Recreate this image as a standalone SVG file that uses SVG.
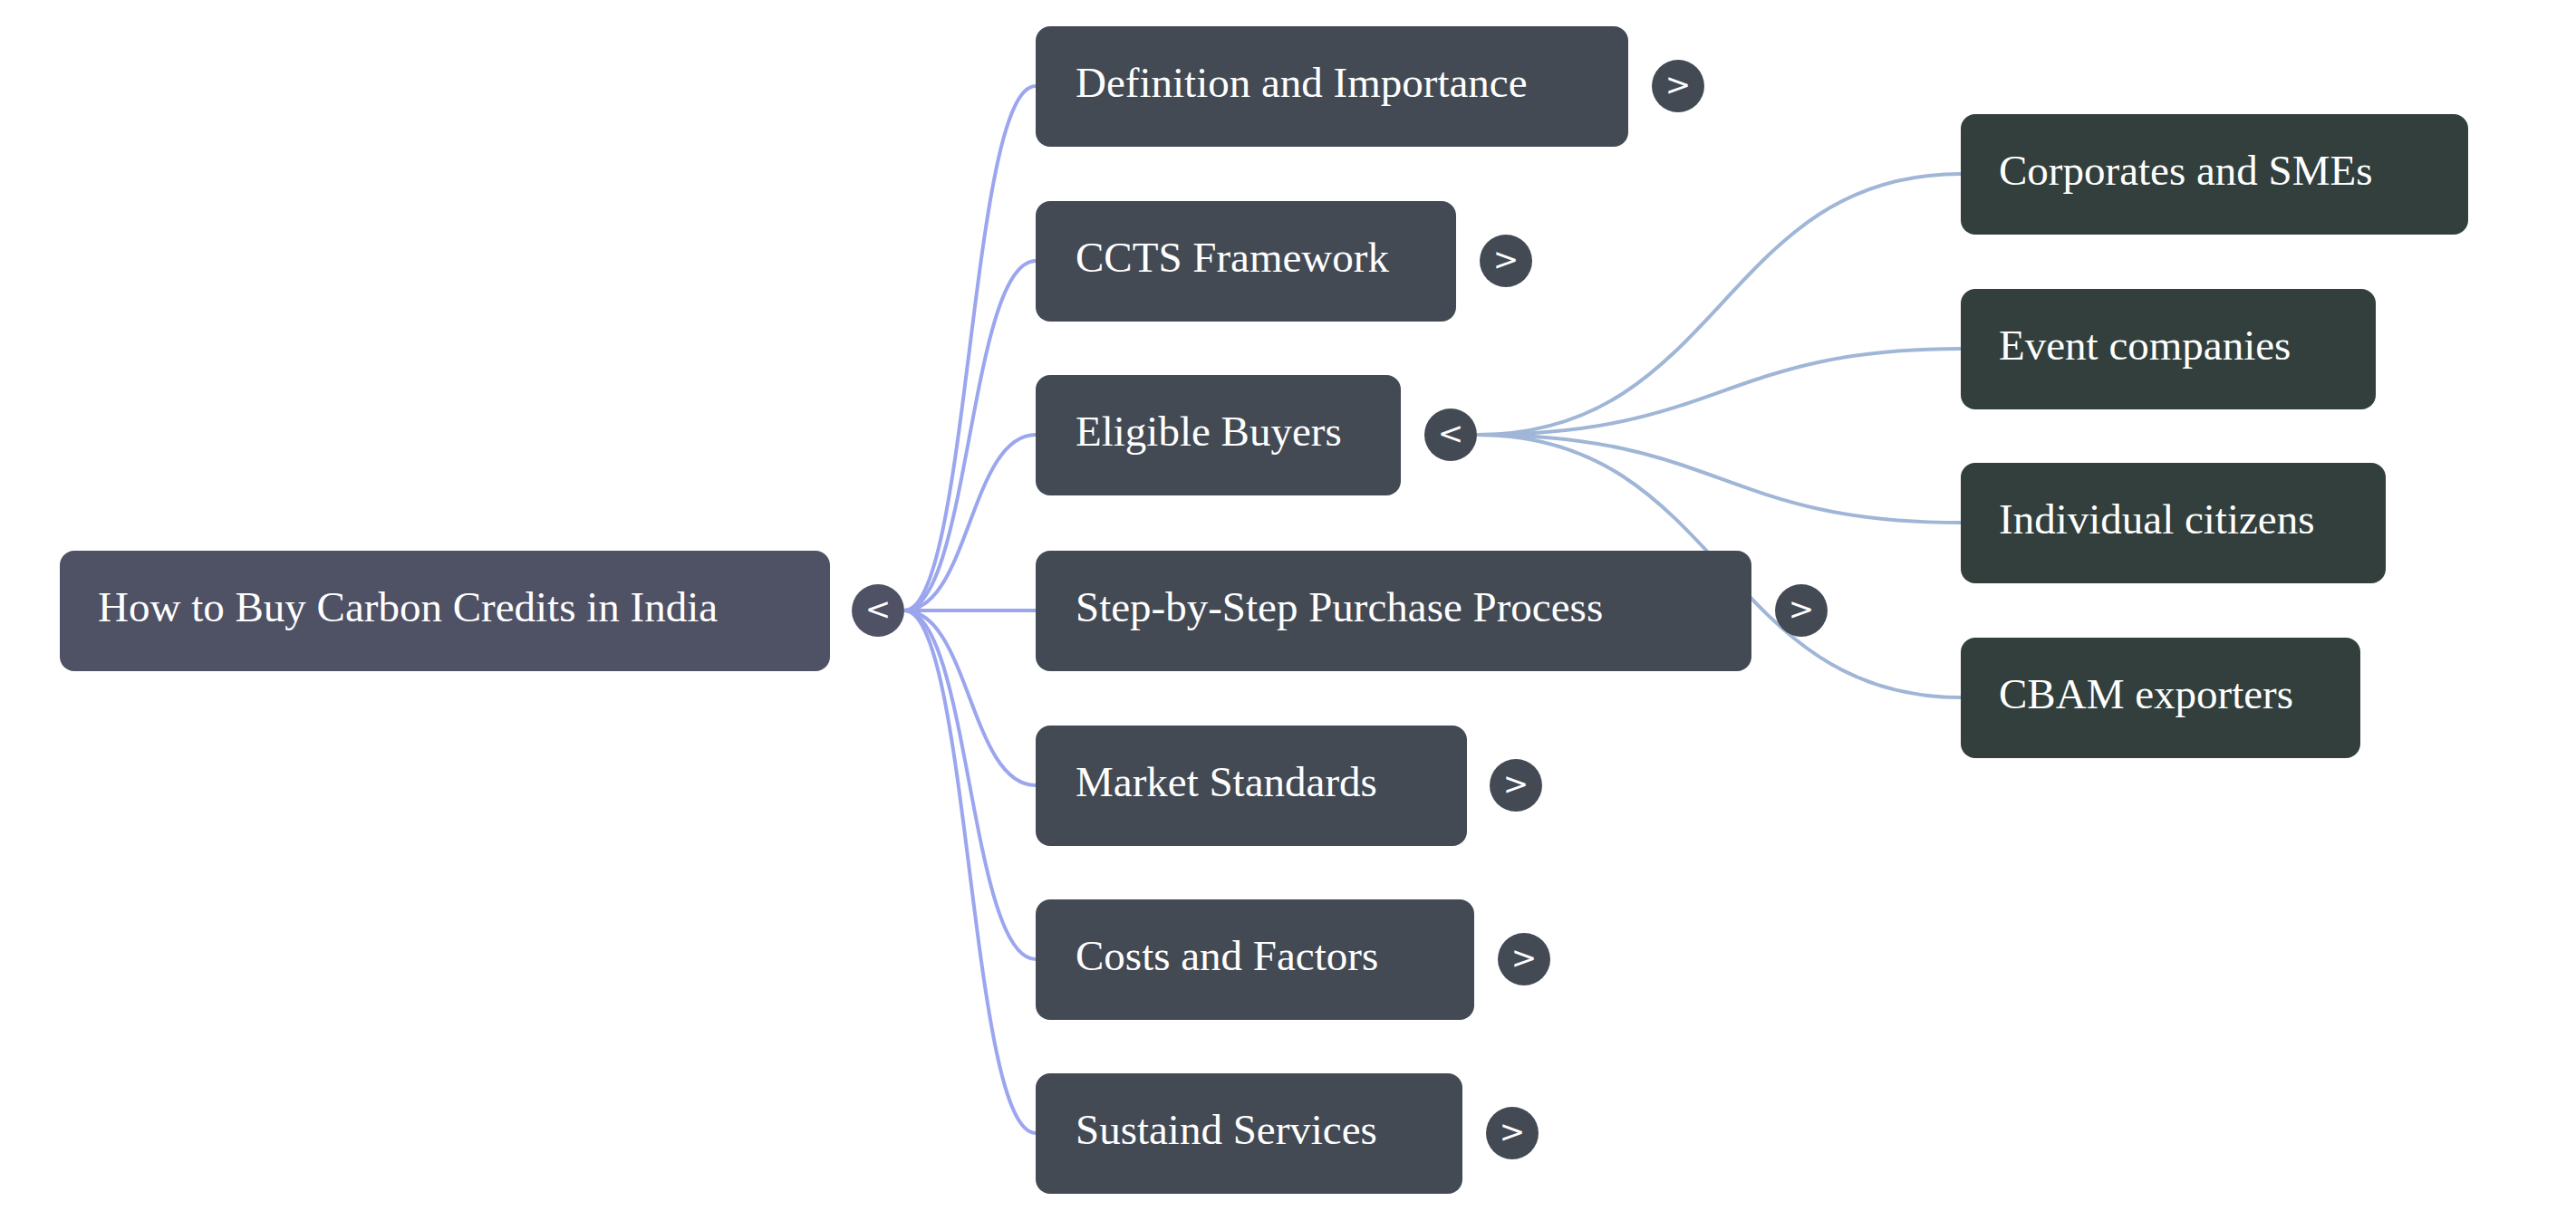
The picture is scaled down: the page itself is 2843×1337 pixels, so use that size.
<svg xmlns="http://www.w3.org/2000/svg" width="2843" height="1337" viewBox="0 0 2843 1337">
<style>
text{font-family:"Liberation Serif","Times New Roman",serif;font-size:47px;fill:#fff;dominant-baseline:central}
.e1{fill:none;stroke:#9ba6ee;stroke-width:4}
.e2{fill:none;stroke:#a0b6d6;stroke-width:4}
.r{fill:#4f5165}.c{fill:#434a54}.g{fill:#323f3c}
.t{font-family:"DejaVu Sans",sans-serif;font-size:34px}
</style>
<rect width="2843" height="1337" fill="#fff"/>
<g id="connectors">
<path class="e1" d="M998 674 C1070 674 1070 95 1143 95"/>
<path class="e1" d="M998 674 C1070 674 1070 288 1143 288"/>
<path class="e1" d="M998 674 C1070 674 1070 480 1143 480"/>
<path class="e1" d="M998 674 L1143 674"/>
<path class="e1" d="M998 674 C1070 674 1070 867 1143 867"/>
<path class="e1" d="M998 674 C1070 674 1070 1059 1143 1059"/>
<path class="e1" d="M998 674 C1070 674 1070 1251 1143 1251"/>
<path class="e2" d="M1630 480 C1900 480 1900 192 2164 192"/>
<path class="e2" d="M1630 480 C1900 480 1900 385 2164 385"/>
<path class="e2" d="M1630 480 C1900 480 1900 577 2164 577"/>
<path class="e2" d="M1630 480 C1900 480 1900 770 2164 770"/>
</g>
<g id="root"><rect class="r" x="66" y="608" width="850" height="133" rx="16"/><text x="108" y="670">How to Buy Carbon Credits in India</text><circle class="r" cx="969" cy="674" r="29"/><text class="t" x="969" y="672" text-anchor="middle">&lt;</text></g>
<g id="n1"><rect class="c" x="1143" y="29" width="654" height="133" rx="16"/><text x="1187" y="91">Definition and Importance</text><circle class="c" cx="1852" cy="95" r="29"/><text class="t" x="1852" y="93" text-anchor="middle">&gt;</text></g>
<g id="n2"><rect class="c" x="1143" y="222" width="464" height="133" rx="16"/><text x="1187" y="284">CCTS Framework</text><circle class="c" cx="1662" cy="288" r="29"/><text class="t" x="1662" y="286" text-anchor="middle">&gt;</text></g>
<g id="n3"><rect class="c" x="1143" y="414" width="403" height="133" rx="16"/><text x="1187" y="476">Eligible Buyers</text><circle class="c" cx="1601" cy="480" r="29"/><text class="t" x="1601" y="478" text-anchor="middle">&lt;</text></g>
<g id="n4"><rect class="c" x="1143" y="608" width="790" height="133" rx="16"/><text x="1187" y="670">Step-by-Step Purchase Process</text><circle class="c" cx="1988" cy="674" r="29"/><text class="t" x="1988" y="672" text-anchor="middle">&gt;</text></g>
<g id="n5"><rect class="c" x="1143" y="801" width="476" height="133" rx="16"/><text x="1187" y="863">Market Standards</text><circle class="c" cx="1673" cy="867" r="29"/><text class="t" x="1673" y="865" text-anchor="middle">&gt;</text></g>
<g id="n6"><rect class="c" x="1143" y="993" width="484" height="133" rx="16"/><text x="1187" y="1055">Costs and Factors</text><circle class="c" cx="1682" cy="1059" r="29"/><text class="t" x="1682" y="1057" text-anchor="middle">&gt;</text></g>
<g id="n7"><rect class="c" x="1143" y="1185" width="471" height="133" rx="16"/><text x="1187" y="1247">Sustaind Services</text><circle class="c" cx="1669" cy="1251" r="29"/><text class="t" x="1669" y="1249" text-anchor="middle">&gt;</text></g>
<g id="g1"><rect class="g" x="2164" y="126" width="560" height="133" rx="16"/><text x="2206" y="188">Corporates and SMEs</text></g>
<g id="g2"><rect class="g" x="2164" y="319" width="458" height="133" rx="16"/><text x="2206" y="381">Event companies</text></g>
<g id="g3"><rect class="g" x="2164" y="511" width="469" height="133" rx="16"/><text x="2206" y="573">Individual citizens</text></g>
<g id="g4"><rect class="g" x="2164" y="704" width="441" height="133" rx="16"/><text x="2206" y="766">CBAM exporters</text></g>
</svg>
